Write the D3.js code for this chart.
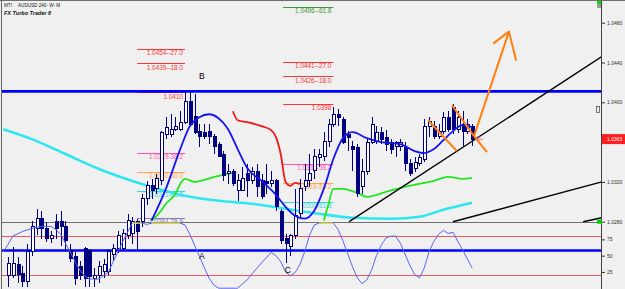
<!DOCTYPE html>
<html>
<head>
<meta charset="utf-8">
<title>AUDUSD 240</title>
<style>
  body { margin: 0; background: #f0f0f0; overflow: hidden; }
  svg { display: block; font-family: "Liberation Sans", Arial, sans-serif; }
</style>
</head>
<body>
<svg class="chart" width="625" height="289"></svg>
<script src="https://d3js.org/d3.v7.min.js"></script>
<script>
// candles by bar index: [open, high, low, close]
var candles = [
  [1.0226, 1.0245, 1.0214, 1.0238], [1.0226, 1.0255, 1.0223, 1.0238], [1.0237, 1.0245, 1.0218, 1.0227],
  [1.0228, 1.0235, 1.0214, 1.0220], [1.0220, 1.0258, 1.0214, 1.0250], [1.0250, 1.0281, 1.0246, 1.0275],
  [1.0273, 1.0293, 1.0267, 1.0283], [1.0283, 1.0291, 1.0263, 1.0273], [1.0273, 1.0280, 1.0260, 1.0263],
  [1.0263, 1.0271, 1.0259, 1.0266], [1.0280, 1.0288, 1.0263, 1.0273], [1.0280, 1.0291, 1.0256, 1.0275],
  [1.0275, 1.0281, 1.0250, 1.0261], [1.0251, 1.0258, 1.0240, 1.0243], [1.0245, 1.0250, 1.0216, 1.0223],
  [1.0235, 1.0241, 1.0221, 1.0226], [1.0253, 1.0255, 1.0214, 1.0223], [1.0251, 1.0253, 1.0214, 1.0225],
  [1.0223, 1.0233, 1.0214, 1.0226], [1.0226, 1.0241, 1.0218, 1.0235], [1.0230, 1.0243, 1.0223, 1.0237],
  [1.0230, 1.0253, 1.0226, 1.0250], [1.0247, 1.0258, 1.0241, 1.0253], [1.0253, 1.0271, 1.0249, 1.0266],
  [1.0253, 1.0273, 1.0251, 1.0268], [1.0266, 1.0288, 1.0263, 1.0281], [1.0268, 1.0285, 1.0258, 1.0280],
  [1.0280, 1.0283, 1.0251, 1.0270], [1.0280, 1.0308, 1.0275, 1.0303], [1.0303, 1.0321, 1.0297, 1.0316],
  [1.0316, 1.0323, 1.0303, 1.0311], [1.0313, 1.0328, 1.0308, 1.0323], [1.0321, 1.0371, 1.0317, 1.0370],
  [1.0368, 1.0385, 1.0363, 1.0375], [1.0368, 1.0388, 1.0365, 1.0373], [1.0373, 1.0385, 1.0371, 1.0376],
  [1.0373, 1.0391, 1.0371, 1.0380], [1.0380, 1.0411, 1.0378, 1.0401], [1.0401, 1.0410, 1.0376, 1.0378],
  [1.0386, 1.0408, 1.0368, 1.0370], [1.0371, 1.0378, 1.0355, 1.0366], [1.0370, 1.0378, 1.0363, 1.0366],
  [1.0371, 1.0378, 1.0358, 1.0366], [1.0366, 1.0368, 1.0348, 1.0356], [1.0358, 1.0360, 1.0345, 1.0346],
  [1.0348, 1.0351, 1.0321, 1.0326], [1.0328, 1.0338, 1.0318, 1.0330], [1.0330, 1.0333, 1.0316, 1.0318],
  [1.0311, 1.0328, 1.0301, 1.0321], [1.0311, 1.0335, 1.0311, 1.0323], [1.0328, 1.0338, 1.0305, 1.0321],
  [1.0321, 1.0335, 1.0318, 1.0330], [1.0330, 1.0338, 1.0305, 1.0315], [1.0321, 1.0328, 1.0303, 1.0305],
  [1.0320, 1.0338, 1.0308, 1.0318], [1.0318, 1.0331, 1.0315, 1.0321], [1.0321, 1.0323, 1.0291, 1.0295],
  [1.0290, 1.0293, 1.0258, 1.0261], [1.0263, 1.0268, 1.0238, 1.0258], [1.0255, 1.0268, 1.0246, 1.0266],
  [1.0266, 1.0313, 1.0263, 1.0286], [1.0288, 1.0323, 1.0283, 1.0313], [1.0315, 1.0338, 1.0311, 1.0321],
  [1.0321, 1.0348, 1.0315, 1.0328], [1.0331, 1.0353, 1.0323, 1.0346], [1.0345, 1.0353, 1.0335, 1.0348],
  [1.0346, 1.0370, 1.0341, 1.0361], [1.0361, 1.0383, 1.0355, 1.0378], [1.0378, 1.0395, 1.0375, 1.0388],
  [1.0388, 1.0393, 1.0376, 1.0385], [1.0383, 1.0385, 1.0358, 1.0360], [1.0368, 1.0371, 1.0351, 1.0365],
  [1.0356, 1.0361, 1.0331, 1.0353], [1.0355, 1.0358, 1.0305, 1.0308], [1.0315, 1.0343, 1.0308, 1.0330],
  [1.0330, 1.0363, 1.0327, 1.0360], [1.0360, 1.0385, 1.0358, 1.0378], [1.0361, 1.0376, 1.0358, 1.0370],
  [1.0370, 1.0375, 1.0358, 1.0363], [1.0365, 1.0372, 1.0351, 1.0358], [1.0360, 1.0363, 1.0348, 1.0353],
  [1.0356, 1.0361, 1.0345, 1.0360], [1.0356, 1.0363, 1.0351, 1.0360], [1.0355, 1.0360, 1.0331, 1.0338],
  [1.0338, 1.0343, 1.0326, 1.0328], [1.0333, 1.0345, 1.0330, 1.0340], [1.0338, 1.0348, 1.0336, 1.0345],
  [1.0343, 1.0383, 1.0340, 1.0376], [1.0376, 1.0385, 1.0365, 1.0381], [1.0376, 1.0381, 1.0363, 1.0366],
  [1.0366, 1.0378, 1.0363, 1.0371], [1.0371, 1.0390, 1.0368, 1.0385], [1.0385, 1.0391, 1.0370, 1.0373],
  [1.0395, 1.0398, 1.0368, 1.0373], [1.0373, 1.0391, 1.0369, 1.0385], [1.0378, 1.0391, 1.0356, 1.0371],
  [1.0371, 1.0383, 1.0368, 1.0378], [1.0376, 1.0378, 1.0356, 1.0363]
];

// indicator lines: [bar index, price]
var blueMa = [[30, 1.0281], [33, 1.0313], [36, 1.0353], [38, 1.0376], [40, 1.0385], [42, 1.0388], [44, 1.0384],
  [46, 1.0373], [48, 1.0353], [50, 1.0334], [53, 1.0321], [56, 1.0307], [58, 1.0295], [60, 1.0286], [62, 1.0283],
  [64, 1.0291], [66, 1.0313], [68, 1.0343], [70, 1.0364], [72, 1.0370], [75, 1.0364], [78, 1.0360], [82, 1.0358],
  [85, 1.0351], [87, 1.0349], [89, 1.0353], [91, 1.0362], [93, 1.0371], [95, 1.0377], [97, 1.0375]];
var redStop = [[47, 1.0391], [48, 1.0382], [50, 1.0380], [53, 1.0376], [55, 1.0372], [56, 1.0365], [57, 1.0348],
  [58, 1.0320], [59, 1.0316], [60, 1.0319], [61, 1.0318]];
var greenStop1 = [[30, 1.0281], [32, 1.0291], [33, 1.0298], [35, 1.0308], [36, 1.0318], [37, 1.0323], [39, 1.0320],
  [41, 1.0322], [44, 1.0326], [46, 1.0328], [47, 1.0329]];
var greenStop2 = [[66, 1.0281], [67, 1.0298], [68, 1.0313], [70, 1.0313], [73, 1.0309], [75, 1.0305], [79, 1.0310],
  [82, 1.0314], [86, 1.0318], [89, 1.0321], [92, 1.0325], [95, 1.0323], [97, 1.0324]];
var cyanMa = [[-1, 1.0373], [5, 1.0363], [12, 1.0348], [19, 1.0333], [26, 1.0321], [30, 1.0315], [37, 1.0306],
  [44, 1.0301], [51, 1.0298], [58, 1.0293], [65, 1.0288], [72, 1.0284], [80, 1.0283], [86, 1.0285], [91, 1.0292],
  [97, 1.0299]];

// oscillator: [bar index, value 0-100]
var oscValues = [[-1, 56], [0, 67], [1, 80], [3, 87], [5, 92], [7, 95], [9, 95], [10, 90], [11, 83], [12, 69],
  [13, 56], [14, 41], [15, 28], [16, 19], [17, 14], [19, 14], [21, 25], [22, 41], [23, 56], [24, 72], [25, 86],
  [26, 100], [28, 100], [29, 98], [30, 100], [36, 100], [37, 97], [38, 83], [40, 49], [41, 32], [42, 16], [43, 5],
  [44, 0], [48, 0], [50, 13], [51, 22], [53, 39], [55, 55], [56, 50], [57, 41], [58, 25], [59, 19], [60, 24],
  [61, 36], [62, 56], [63, 81], [64, 97], [65, 100], [68, 100], [69, 90], [70, 73], [71, 53], [72, 33], [73, 16],
  [74, 7], [75, 13], [76, 28], [77, 50], [78, 66], [79, 77], [80, 80], [81, 80], [82, 69], [83, 52], [84, 35],
  [85, 21], [86, 16], [87, 31], [88, 56], [89, 72], [90, 83], [91, 89], [92, 84], [93, 86], [94, 72], [95, 59],
  [96, 45], [97, 31]];
var oscLevels = [80, 20];
var oscTicks = [75, 50, 25];

// fibonacci levels
var fibLevels = [-61.8, -27, -18, 0, 38.2, 50, 61.8, 78.6];
var fibLeftBars = [27, 37];
var fibLeftPrices = [null, 1.0454, 1.0439, 1.0410, 1.0349, 1.0330, 1.0311, 1.0284];
var fibRightBars = [57.5, 68];
var fibRightPrices = [1.0496, 1.0441, 1.0426, 1.0398, 1.0338, 1.0319, 1.0300, null];
var fibColors = ['#3c9c3c', '#ff3434', '#ff3434', '#ff3434', '#ff55b4', '#ffa448', '#34d4d8', '#8a7cb0'];

// drawn objects: [bar index, price]
var blueLevels = [1.0411, 1.0251];
var grayLevel = 1.0280;
var trendLines = [
  [[71.3, 1.0280], [124.1, 1.0446]],
  [[93.0, 1.0280], [124.1, 1.0320]],
  [[120.2, 1.0280], [124.1, 1.0284]]
];
var orangeLines = [
  [[87.8, 1.0382], [93.8, 1.0351]],
  [[92.8, 1.0397], [97.4, 1.0366]],
  [[97.4, 1.0366], [100.1, 1.0350]],
  [[97.4, 1.0366], [104.7, 1.0471]],
  [[101.4, 1.0459], [104.7, 1.0471], [106.2, 1.0442]]
];
var waveLabels = ['B', 'A', 'C'];
var wavePoints = [[40.5, 1.0426], [40.5, 1.0246], [58.5, 1.0231]];

var priceTicks = [1.0480, 1.0440, 1.0400, 1.0320, 1.0280];
var lastPrice = 1.0363;

var svg = d3.select('svg.chart');
var width = 625, height = 289;

var x = d3.scaleLinear().domain([-1, 124]).range([3.2, 601.3]);
var y = d3.scaleLinear().domain([1.0280, 1.0480]).range([221.7, 22.7]);
var yOsc = d3.scaleLinear().domain([0, 100]).range([288.2, 223.1]);

svg.append('rect').attr('width', width).attr('height', height).attr('fill', '#f0f0f0');

svg.append('clipPath').attr('id', 'plot-clip')
  .append('rect').attr('x', 2).attr('y', 1).attr('width', 600).attr('height', 288);

var plot = svg.append('g').attr('clip-path', 'url(#plot-clip)');

var priceLine = d3.line()
  .x(function(d) { return x(d[0]); })
  .y(function(d) { return y(d[1]); });
var smoothLine = d3.line()
  .x(function(d) { return x(d[0]); })
  .y(function(d) { return y(d[1]); })
  .curve(d3.curveMonotoneX);

// fib levels with labels
function drawFib(bars, prices) {
  prices.forEach(function(p, i) {
    if (p === null) return;
    var lvl = fibLevels[i];
    plot.append('line')
      .attr('x1', x(bars[0])).attr('x2', x(bars[1]))
      .attr('y1', Math.round(y(p)) + 0.5).attr('y2', Math.round(y(p)) + 0.5)
      .attr('stroke', fibColors[i]).attr('stroke-width', 1);
    plot.append('text')
      .attr('x', x(bars[1]) - 2).attr('y', y(p) + 6.2)
      .attr('text-anchor', 'end')
      .attr('font-size', 6.4)
      .attr('fill', fibColors[i])
      .text(lvl === 0 ? p.toFixed(4) : p.toFixed(4) + '-' + lvl.toFixed(1));
  });
}
drawFib(fibLeftBars, fibLeftPrices);
drawFib(fibRightBars, fibRightPrices);

// cyan moving average
plot.append('path').datum(cyanMa)
  .attr('d', smoothLine).attr('fill', 'none')
  .attr('stroke', '#2ee6ee').attr('stroke-width', 2.6);

// horizontal levels
plot.append('line')
  .attr('x1', 2).attr('x2', 602)
  .attr('y1', Math.round(y(grayLevel)) + 0.5).attr('y2', Math.round(y(grayLevel)) + 0.5)
  .attr('stroke', '#707070').attr('stroke-width', 1);

plot.selectAll('line.osc-level').data(oscLevels).enter().append('line')
  .attr('class', 'osc-level')
  .attr('x1', 2).attr('x2', 602)
  .attr('y1', function(d) { return Math.round(yOsc(d)) + 0.5; })
  .attr('y2', function(d) { return Math.round(yOsc(d)) + 0.5; })
  .attr('stroke', '#ea5a5a').attr('stroke-width', 1);

plot.selectAll('line.blue-level').data(blueLevels).enter().append('line')
  .attr('class', 'blue-level')
  .attr('x1', 2).attr('x2', 602)
  .attr('y1', function(d) { return y(d); })
  .attr('y2', function(d) { return y(d); })
  .attr('stroke', '#0000ff').attr('stroke-width', 2.6);

// stop lines
plot.append('path').datum(greenStop1).attr('d', smoothLine).attr('fill', 'none')
  .attr('stroke', '#22e622').attr('stroke-width', 1.8);
plot.append('path').datum(greenStop2).attr('d', smoothLine).attr('fill', 'none')
  .attr('stroke', '#22e622').attr('stroke-width', 1.8);
plot.append('path').datum(redStop).attr('d', smoothLine).attr('fill', 'none')
  .attr('stroke', '#f01818').attr('stroke-width', 1.8);

// candles
var candleG = plot.append('g').attr('shape-rendering', 'crispEdges');
var bars = candleG.selectAll('g.bar').data(candles).enter().append('g').attr('class', 'bar');
bars.append('line')
  .attr('x1', function(d, i) { return Math.round(x(i)) + 0.5; })
  .attr('x2', function(d, i) { return Math.round(x(i)) + 0.5; })
  .attr('y1', function(d) { return y(d[1]); })
  .attr('y2', function(d) { return y(d[2]); })
  .attr('stroke', '#000080');
bars.append('rect')
  .attr('x', function(d, i) { return Math.round(x(i)) - 1; })
  .attr('width', 3)
  .attr('y', function(d) { return y(Math.max(d[0], d[3])); })
  .attr('height', function(d) { return Math.max(1, Math.abs(y(d[0]) - y(d[3]))); })
  .attr('fill', function(d) { return d[3] >= d[0] ? '#ffffff' : '#000080'; })
  .attr('stroke', '#000080').attr('stroke-width', 1);

// oscillator
var oscLine = d3.line()
  .x(function(d) { return x(d[0]); })
  .y(function(d) { return yOsc(d[1]); });
plot.append('path').datum(oscValues).attr('d', oscLine).attr('fill', 'none')
  .attr('stroke', '#5a64ee').attr('stroke-width', 1);
plot.append('path').datum(oscValues)
  .attr('d', oscLine.defined(function(d) { return d[1] >= 99; }))
  .attr('fill', 'none').attr('stroke', '#f2ea40').attr('stroke-width', 1.4);

// blue moving average
plot.append('path').datum(blueMa).attr('d', smoothLine).attr('fill', 'none')
  .attr('stroke', '#1414f0').attr('stroke-width', 1.8);

// trend lines
plot.selectAll('path.trend').data(trendLines).enter().append('path')
  .attr('class', 'trend')
  .attr('d', priceLine).attr('fill', 'none')
  .attr('stroke', '#000000').attr('stroke-width', 1.4);

// orange projection
plot.selectAll('path.orange').data(orangeLines).enter().append('path')
  .attr('class', 'orange')
  .attr('d', priceLine).attr('fill', 'none')
  .attr('stroke', '#ff8010').attr('stroke-width', 2)
  .attr('stroke-linejoin', 'round');

// small marker at last bar
var lastX = x(candles.length - 1);
plot.append('path')
  .attr('d', 'M' + (lastX + 11) + ',' + y(lastPrice) + 'H' + (lastX + 5) +
    'M' + (lastX + 8) + ',' + (y(lastPrice) - 2.5) + 'L' + (lastX + 5) + ',' + y(lastPrice) +
    'L' + (lastX + 8) + ',' + (y(lastPrice) + 2.5))
  .attr('fill', 'none').attr('stroke', '#ff6a8a').attr('stroke-width', 1);

// wave letters
plot.selectAll('text.wave').data(waveLabels).enter().append('text')
  .attr('class', 'wave')
  .attr('x', function(d, i) { return x(wavePoints[i][0]); })
  .attr('y', function(d, i) { return y(wavePoints[i][1]) + 3; })
  .attr('text-anchor', 'middle')
  .attr('font-size', 8.5)
  .attr('fill', '#000000')
  .text(function(d) { return d; });

// price axis
var axisG = svg.append('g')
  .attr('transform', 'translate(602,0)')
  .call(d3.axisRight(y).tickValues(priceTicks).tickFormat(d3.format('.4f')).tickSize(3).tickPadding(2));
axisG.attr('font-size', 5).attr('font-family', '"Liberation Sans", Arial, sans-serif').attr('color', '#303030');
axisG.select('.domain').remove();

var oscAxisG = svg.append('g')
  .attr('transform', 'translate(602,0)')
  .call(d3.axisRight(yOsc).tickValues(oscTicks).tickSize(3).tickPadding(2));
oscAxisG.attr('font-size', 5).attr('font-family', '"Liberation Sans", Arial, sans-serif').attr('color', '#303030');
oscAxisG.select('.domain').remove();

// last price box
svg.append('rect')
  .attr('x', 602).attr('y', y(lastPrice) - 5).attr('width', 23).attr('height', 10)
  .attr('fill', '#ff1c1c');
svg.append('text')
  .attr('x', 607).attr('y', y(lastPrice) + 1.8)
  .attr('font-size', 5).attr('fill', '#ffffff')
  .text(lastPrice.toFixed(4));

// frame
svg.append('line').attr('x1', 601.5).attr('x2', 601.5).attr('y1', 0).attr('y2', height)
  .attr('stroke', '#404040').attr('stroke-width', 1);
svg.append('line').attr('x1', 0).attr('x2', width).attr('y1', 0.5).attr('y2', 0.5)
  .attr('stroke', '#707070').attr('stroke-width', 1);
svg.append('line').attr('x1', 1.5).attr('x2', 1.5).attr('y1', 0).attr('y2', height)
  .attr('stroke', '#606060').attr('stroke-width', 1);

// corner markers
svg.append('rect').attr('x', 597).attr('y', 1).attr('width', 4).attr('height', 3).attr('fill', '#00e000');
svg.append('rect').attr('x', 597).attr('y', 4).attr('width', 4).attr('height', 4).attr('fill', '#9a9a9a');
svg.append('rect').attr('x', 597).attr('y', y(grayLevel) - 2).attr('width', 5).attr('height', 4).attr('fill', '#00d000');
svg.append('rect').attr('x', 596.5).attr('y', 106.5).attr('width', 3).attr('height', 6)
  .attr('fill', 'none').attr('stroke', '#555555').attr('stroke-width', 0.8);

// title
svg.append('text').attr('x', 4).attr('y', 6.5).attr('font-size', 4.6).attr('fill', '#202020').text('MTI');
svg.append('text').attr('x', 18).attr('y', 6.5).attr('font-size', 4.6).attr('fill', '#202020').text('AUDUSD 240- W- M');
svg.append('text').attr('x', 4).attr('y', 15).attr('font-size', 5.5)
  .attr('font-weight', 'bold').attr('font-style', 'italic').attr('fill', '#101010')
  .text('FX Turbo Trader 8');
</script>
</body>
</html>
